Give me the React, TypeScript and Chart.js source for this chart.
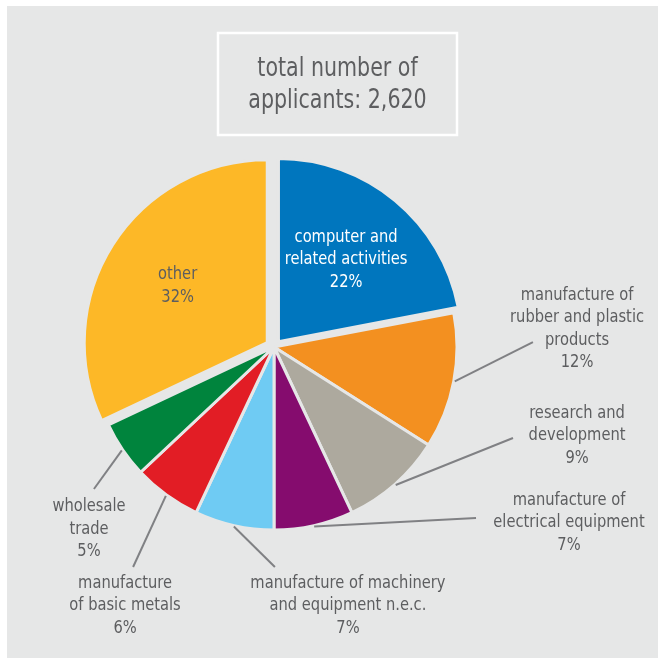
import React, { useEffect, useRef } from 'react';
import { Chart, registerables } from 'chart.js';

Chart.register(...registerables);

// ---- data ----
const categories = [
  'computer and related activities',
  'manufacture of rubber and plastic products',
  'research and development',
  'manufacture of electrical equipment',
  'manufacture of machinery and equipment n.e.c.',
  'manufacture of basic metals',
  'wholesale trade',
  'other',
];
const shares = [22, 12, 9, 7, 7, 6, 5, 32];
const labelLines = [
  ['computer and', 'related activities'],
  ['manufacture of', 'rubber and plastic', 'products'],
  ['research and', 'development'],
  ['manufacture of', 'electrical equipment'],
  ['manufacture of machinery', 'and equipment n.e.c.'],
  ['manufacture', 'of basic metals'],
  ['wholesale', 'trade'],
  ['other'],
];
const titleLines = ['total number of', 'applicants: 2,620'];

// ---- styles ----
const sliceColors = ['#0076BE', '#F39020', '#ADA99E', '#850C6E', '#6FCBF3', '#E21D25', '#00843D', '#FDB827'];
const sliceShift = [7, 0, 0, 0, 0, 0, 0, 8]; // pull-out distance in px
const BG = '#e6e7e7';
const TEXT = '#5d5e60';
const FONT = '"Liberation Sans Narrow", "DejaVu Sans Condensed", "Liberation Sans", sans-serif';

// label layout, in units of the pie radius, relative to the pie centre
type Layout =
  | { kind: 'inside'; r: number; color: string }
  | { kind: 'outside'; line: [number, number]; text: [number, number] };
const labelLayout: Layout[] = [
  { kind: 'inside', r: 0.58, color: '#ffffff' },
  { kind: 'outside', line: [1.415, -0.027], text: [1.656, -0.098] },
  { kind: 'outside', line: [1.306, 0.497], text: [1.656, 0.486] },
  { kind: 'outside', line: [1.104, 0.934], text: [1.612, 0.962] },
  { kind: 'outside', line: [0.005, 1.202], text: [0.404, 1.415] },
  { kind: 'outside', line: [-0.77, 1.202], text: [-0.814, 1.415] },
  { kind: 'outside', line: [-0.984, 0.776], text: [-1.011, 0.995] },
  { kind: 'inside', r: 0.58, color: TEXT },
];

const LINE_H = 22.5;
const LABEL_SCALE_X = 0.96;
const TITLE_SCALE_X = 0.88;

function fillScaled(ctx: CanvasRenderingContext2D, t: string, x: number, y: number, sx: number) {
  ctx.save();
  ctx.translate(x, y);
  ctx.scale(sx, 1);
  ctx.fillText(t, 0, 0);
  ctx.restore();
}

const bgPlugin = {
  id: 'bgPanel',
  beforeDraw(chart: any) {
    const { ctx, width, height } = chart;
    ctx.save();
    ctx.fillStyle = '#ffffff';
    ctx.fillRect(0, 0, width, height);
    ctx.fillStyle = BG;
    ctx.fillRect(7, 6, width - 8, height - 7);
    // title box
    ctx.strokeStyle = '#ffffff';
    ctx.lineWidth = 2.5;
    ctx.strokeRect(218, 33, 239, 102);
    ctx.fillStyle = TEXT;
    ctx.font = `26px ${FONT}`;
    ctx.textAlign = 'center';
    ctx.textBaseline = 'middle';
    titleLines.forEach((t, i) => fillScaled(ctx, t, 337.5, 69 + i * 32, TITLE_SCALE_X));
    ctx.restore();
  },
};

// draw the arcs ourselves so that pulled-out slices are only translated (not enlarged)
const shiftPlugin = {
  id: 'shiftArcs',
  beforeDatasetDraw(chart: any, args: any) {
    const { ctx } = chart;
    const meta = args.meta;
    meta.data.forEach((arc: any, i: number) => {
      const { startAngle, endAngle } = arc.getProps(['startAngle', 'endAngle'], true);
      const mid = (startAngle + endAngle) / 2;
      const s = sliceShift[i] || 0;
      ctx.save();
      ctx.translate(Math.cos(mid) * s, Math.sin(mid) * s);
      arc.draw(ctx, chart.chartArea);
      ctx.restore();
    });
    return false;
  },
};

const labelPlugin = {
  id: 'sliceLabels',
  afterDatasetsDraw(chart: any) {
    const { ctx } = chart;
    const meta = chart.getDatasetMeta(0);
    ctx.save();
    ctx.font = `17px ${FONT}`;
    ctx.textAlign = 'center';
    ctx.textBaseline = 'middle';
    meta.data.forEach((arc: any, i: number) => {
      const { x, y, startAngle, endAngle, outerRadius } = arc.getProps(
        ['x', 'y', 'startAngle', 'endAngle', 'outerRadius'],
        true
      );
      const R = outerRadius;
      const mid = (startAngle + endAngle) / 2;
      const off = sliceShift[i];
      const lay = labelLayout[i];
      const lines = [...labelLines[i], `${shares[i]}%`];
      let cx: number, cy: number;
      if (lay.kind === 'inside') {
        cx = x + Math.cos(mid) * (R * lay.r + off);
        cy = y + Math.sin(mid) * (R * lay.r + off);
        ctx.fillStyle = lay.color;
      } else {
        const sx = x + Math.cos(mid) * (R + 1);
        const sy = y + Math.sin(mid) * (R + 1);
        const ex = x + lay.line[0] * R;
        const ey = y + lay.line[1] * R;
        ctx.strokeStyle = '#808184';
        ctx.lineWidth = 2;
        ctx.beginPath();
        ctx.moveTo(sx, sy);
        ctx.lineTo(ex, ey);
        ctx.stroke();
        cx = x + lay.text[0] * R;
        cy = y + lay.text[1] * R;
        ctx.fillStyle = TEXT;
      }
      const top = cy - ((lines.length - 1) * LINE_H) / 2;
      lines.forEach((t, k) => fillScaled(ctx, t, cx, top + k * LINE_H, LABEL_SCALE_X));
    });
    ctx.restore();
  },
};

export default function App() {
  const ref = useRef<HTMLCanvasElement | null>(null);
  useEffect(() => {
    document.body.style.margin = '0';
    const chart = new Chart(ref.current as HTMLCanvasElement, {
      type: 'pie',
      data: {
        labels: categories,
        datasets: [
          {
            data: shares,
            backgroundColor: sliceColors,
            borderColor: BG,
            borderWidth: 3,
            radius: 183,
          } as any,
        ],
      },
      options: {
        animation: false,
        responsive: false,
        layout: { padding: { left: 0, right: 111, top: 40, bottom: 5 } },
        plugins: { legend: { display: false }, tooltip: { enabled: false }, title: { display: false } },
      },
      plugins: [bgPlugin, shiftPlugin, labelPlugin],
    });
    return () => chart.destroy();
  }, []);
  return (
    <div style={{ width: 659, height: 659 }}>
      <canvas ref={ref} width={659} height={659} style={{ display: 'block' }} />
    </div>
  );
}
